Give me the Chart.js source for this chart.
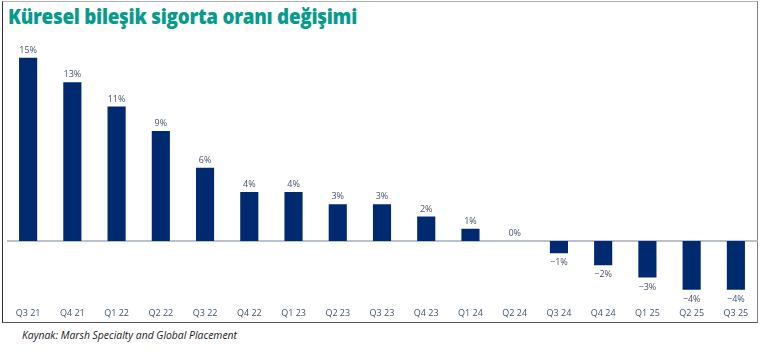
<!DOCTYPE html>
<html><head><meta charset="utf-8">
<script src="https://cdn.jsdelivr.net/npm/chart.js@4.4.1/dist/chart.umd.min.js"></script>
<style>
html,body{margin:0;padding:0;background:#fff;}
#wrap{position:relative;width:764px;height:356px;overflow:hidden;}
#frame{position:absolute;left:2px;top:1px;width:754px;height:320px;border:1px solid;border-color:#b0b0b0 #808080 #555 #333;}
#title{position:absolute;left:8px;top:2px;font-family:"Open Sans",sans-serif;font-weight:800;font-size:21px;color:#069b8b;white-space:nowrap;transform-origin:0 0;letter-spacing:-0.3px;}
#cap{position:absolute;left:22px;top:328px;font-family:"Open Sans",sans-serif;font-style:italic;font-size:10px;color:#1a1a1a;white-space:nowrap;transform-origin:0 0;}
canvas{position:absolute;left:0;top:0;}
</style></head>
<body><div id="wrap">
<div id="frame"></div>
<div id="title">Küresel bileşik sigorta oranı değişimi</div>
<div id="cap">Kaynak: Marsh Specialty and Global Placement</div>
<canvas id="c" width="764" height="356"></canvas>
</div>
<script>
const categories = ["Q3 21","Q4 21","Q1 22","Q2 22","Q3 22","Q4 22","Q1 23","Q2 23","Q3 23","Q4 23","Q1 24","Q2 24","Q3 24","Q4 24","Q1 25","Q2 25","Q3 25"];
const rateChange = [15,13,11,9,6,4,4,3,3,2,1,0,-1,-2,-3,-4,-4];
const valueLabels = ["15%","13%","11%","9%","6%","4%","4%","3%","3%","2%","1%","0%","\u22121%","\u22122%","\u22123%","\u22124%","\u22124%"];

function fit(id, w){
  const el=document.getElementById(id);
  const cw=el.getBoundingClientRect().width;
  el.style.transform='scaleX('+(w/cw)+')';
}
fit('title',349);
fit('cap',215);

const zeroLine={id:'zeroLine',beforeDatasetsDraw(chart){
  const {ctx,chartArea,scales}=chart;
  const y=scales.y.getPixelForValue(0);
  ctx.save();ctx.strokeStyle='#a3abbb';ctx.lineWidth=1.5;
  ctx.beginPath();ctx.moveTo(chartArea.left+1,y);ctx.lineTo(chartArea.right,y);ctx.stroke();ctx.restore();
}};
const valLabels={id:'valLabels',afterDatasetsDraw(chart){
  const {ctx}=chart;
  const meta=chart.getDatasetMeta(0);
  ctx.save();ctx.font='9px "Open Sans", sans-serif';ctx.fillStyle='#46536b';ctx.textAlign='center';
  meta.data.forEach((bar,i)=>{
    const v=rateChange[i];
    if(v>=0){ctx.textBaseline='bottom';ctx.fillText(valueLabels[i],bar.x,bar.y-3);}
    else{ctx.textBaseline='top';ctx.fillText(valueLabels[i],bar.x,bar.y+5);}
  });
  ctx.restore();
}};

new Chart(document.getElementById('c'),{
  type:'bar',
  data:{labels:categories,datasets:[{data:rateChange,backgroundColor:'#002a70',categoryPercentage:1,barPercentage:0.41}]},
  options:{
    responsive:false,animation:false,
    layout:{padding:{left:6,right:6,top:45.5,bottom:34}},
    plugins:{legend:{display:false},tooltip:{enabled:false}},
    scales:{
      x:{grid:{display:false,drawTicks:false},border:{display:false},
         ticks:{color:'#44546a',font:{family:'"Open Sans", sans-serif',size:9},padding:6,maxRotation:0,autoSkip:false},
         afterFit(s){s.height=20;}},
      y:{display:false,min:-5,max:16}
    }
  },
  plugins:[zeroLine,valLabels]
});
</script>
</body></html>
